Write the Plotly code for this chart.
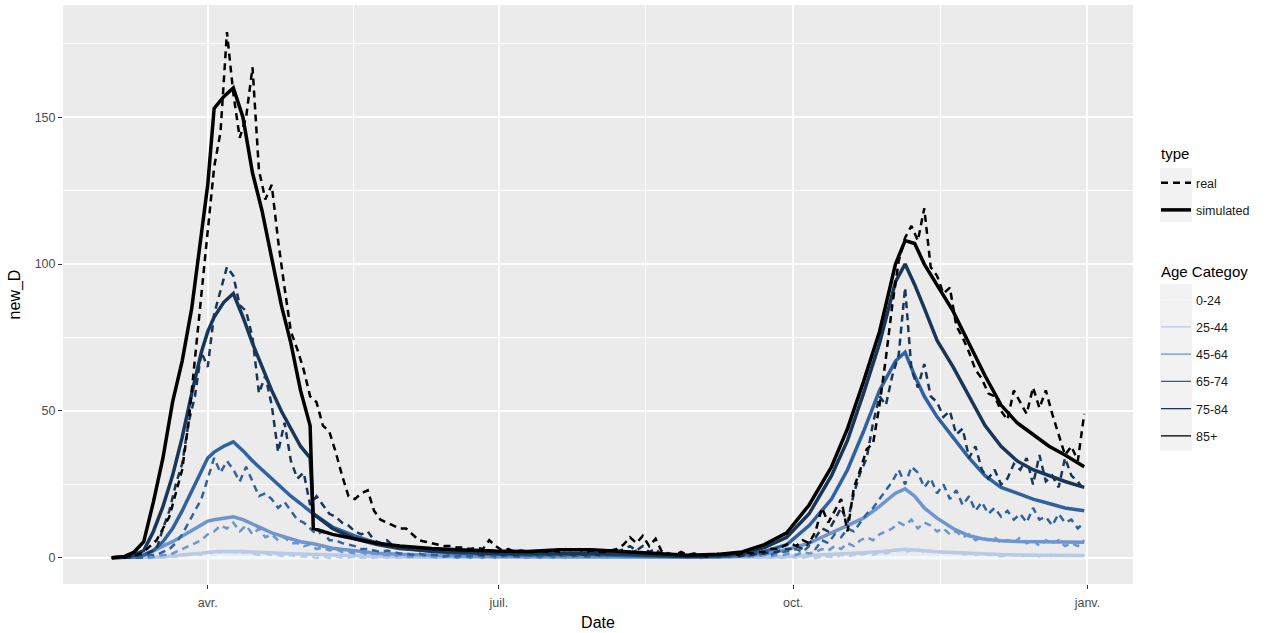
import plotly.graph_objects as go
import pandas as pd

# ---------------- data ----------------
age_categories = ["0-24", "25-44", "45-64", "65-74", "75-84", "85+"]
type_labels = ["real", "simulated"]

# observed series: one value every 2 days, 2020-03-02 .. 2020-12-31
real_dates = pd.date_range("2020-03-02", "2020-12-31", freq="2D")

real_0_24 = [0, 0, 0, 0, 0, 0, 0, 0, 0, 0, 0, 0, 0, 0, 0, 0, 0, 0.5, 0, 0,
             0, 0, 0, 0, 0, 0, 0, 0, 0, 0, 0, 0, 0, 0, 0, 0, 0, 0, 0, 0,
             0, 0, 0, 0, 0, 0, 0, 0, 0, 0, 0, 0, 0, 0, 0, 0, 0, 0, 0, 0,
             0, 0, 0, 0, 0, 0, 0, 0, 0, 0, 0, 0, 0, 0, 0, 0, 0, 0, 0, 0,
             0, 0, 0, 0, 0, 0, 0, 0, 0, 0, 0, 0, 0, 0, 0, 0, 0, 0, 0, 0,
             0, 0, 0, 0, 0, 0, 0, 0, 0, 0, 0, 0, 0, 0, 0, 0, 0, 0, 0, 0,
             0, 0, 0, 0, 0, 0.5, 0, 0, 0, 0, 0, 0, 0, 0, 0, 0, 0, 0, 0, 0,
             0, 0, 0, 0, 0, 0, 0, 0, 0, 0, 0, 0, 0]

real_25_44 = [0, 0, 0, 0, 0, 0, 0, 0, 0, 0.5, 0.5, 1, 1, 1.5, 1, 2, 1.5, 2, 2.5, 2,
              1.5, 2, 1.5, 1, 1.5, 1, 1, 0.5, 1, 0.5, 0.5, 0.5, 0, 0.5, 0, 0.5, 0, 0, 0.5, 0,
              0, 0, 0.5, 0, 0, 0, 0, 0, 0, 0, 0, 0, 0, 0, 0, 0, 0, 0, 0, 0,
              0, 0, 0, 0, 0, 0, 0, 0, 0, 0, 0, 0, 0, 0, 0, 0, 0, 0, 0, 0,
              0, 0, 0.5, 0, 0, 0, 0, 0, 0, 0, 0, 0, 0, 0, 0, 0, 0, 0, 0, 0,
              0, 0, 0, 0, 0, 0, 0.5, 0, 0, 0.5, 0, 0.5, 0.5, 0, 1, 0.5, 1, 1, 1.5, 1,
              2, 1.5, 2, 3, 2, 2.5, 3, 2, 2.5, 1.5, 2, 1.5, 2, 1, 1.5, 1, 1.5, 1, 1, 0.5,
              1, 1, 0.5, 1, 1, 0.5, 1, 0.5, 1, 0.5, 1, 0.5, 1]

real_45_64 = [0, 0, 0, 0, 0, 0, 0, 0.5, 1, 1,
              2, 3, 4, 5, 6, 8, 9, 11, 10, 12,
              9, 11, 8, 10, 7, 8, 6, 7, 5, 5,
              4, 4.5, 3, 3.5, 2.5, 3, 2, 2, 1.5, 2,
              1, 1.5, 1, 1, 0.5, 1, 0.5, 0.5, 1, 0.5,
              0.5, 0, 0.5, 0.5, 0, 0.5, 0, 0.5, 0, 0.5,
              0, 0.5, 0, 0.5, 0, 0, 0.5, 0, 0.5, 0,
              0.5, 0, 0.5, 0, 0.5, 0, 0.5, 0, 0.5, 0.5,
              1, 0.5, 1, 0.5, 1, 0.5, 0, 0.5, 0, 0,
              0, 0.5, 0, 0, 0.5, 0, 0.5, 0, 0.5, 0.5,
              0.5, 0.5, 1, 0.5, 1, 1, 1.5, 1, 2, 1.5,
              2, 3, 2.5, 4, 3, 5, 4, 6, 7, 6,
              8, 9, 10, 12, 11, 13, 10, 12, 11, 9,
              10, 8, 9, 7, 8, 6, 7, 6, 7, 5,
              6, 5, 7, 5, 6, 4, 6, 5, 6, 4,
              5, 4, 6]

real_65_74 = [0, 0, 0, 0, 0, 0, 1, 1, 2, 3,
              5, 8, 12, 16, 20, 27, 34, 29, 33, 30,
              26, 31, 26, 21, 22, 20, 17, 19, 16, 13,
              12, 10, 8, 9, 6, 6, 5, 4.5, 4, 3,
              3, 2.5, 2, 2.5, 2, 1.5, 1.5, 1, 1.5, 1,
              1, 1, 0.5, 1, 0.5, 1, 0.5, 1, 0.5, 1,
              0.5, 0.5, 1, 0.5, 0.5, 1, 0.5, 0.5, 1, 0.5,
              0.5, 1, 0.5, 1, 0.5, 0.5, 1, 0.5, 1, 1,
              2, 1.5, 2.5, 1.5, 2, 1, 0.5, 0.5, 0.5, 0.5,
              0.5, 0.5, 0, 0.5, 0.5, 0.5, 0.5, 0.5, 1, 0.5,
              1, 1, 1.5, 1, 2, 2, 2.5, 3, 2, 4,
              3, 6, 5, 8, 7, 10, 9, 12, 15, 17,
              20, 23, 26, 30, 25, 31, 29, 24, 27, 22,
              25, 20, 23, 18, 21, 16, 19, 15, 17, 14,
              16, 13, 15, 12, 17, 13, 14, 11, 15, 12,
              13, 10, 12]

real_75_84 = [0, 0, 0, 0, 1, 1, 2, 3, 10, 16,
              25, 32, 46, 55, 70, 65, 83, 91, 99, 96,
              86, 84, 75, 56, 62, 52, 36, 46, 33, 27,
              29, 18, 21, 18, 15, 14, 12, 11, 9, 8,
              9, 6, 5, 6, 4, 4, 3.5, 3, 2.5, 3,
              2, 2.5, 2, 1.5, 2, 1.5, 2, 1.5, 1, 2,
              1.5, 1, 1.5, 1, 1, 1.5, 1, 1.5, 1, 1.5,
              1, 2, 1, 1.5, 1, 1.5, 1, 1, 1.5, 2,
              3, 4, 2.5, 4, 2, 3, 1, 1, 0.5, 1,
              0.5, 1, 0.5, 0.5, 1, 0.5, 1, 1, 0.5, 1,
              1, 1.5, 1.5, 2, 2, 3, 3, 4, 3, 5,
              7, 10, 9, 13, 17, 12, 22, 29, 34, 46,
              55, 52, 62, 69, 92, 64, 58, 66, 55, 53,
              48, 50, 42, 44, 34, 38, 30, 27, 30, 25,
              27, 32, 30, 34, 25, 35, 26, 28, 24, 34,
              28, 26, 23]

real_85p = [0, 0, 0, 1, 1, 2, 4, 6, 10, 14,
            22, 30, 46, 68, 88, 112, 133, 145, 179, 158,
            143, 150, 167, 132, 122, 127, 108, 92, 77, 71,
            64, 55, 53, 45, 43, 36, 28, 21, 20, 22,
            23, 16, 13, 12, 11, 10, 10, 8, 6, 5.5,
            5, 4.5, 4, 4, 3.5, 3.5, 3, 3.5, 3, 6,
            4, 2.5, 3, 2, 2.5, 2, 2, 2.5, 2, 2.5,
            2, 3, 2.5, 3, 2, 2.5, 2, 2, 2.5, 3,
            4.5, 7, 5, 7.5, 4, 6.5, 2, 1.5, 1, 2,
            1, 1.5, 1, 0.5, 1, 1.5, 1, 1.5, 1, 2,
            1.5, 2, 2, 3, 3, 4, 5, 4, 6, 5,
            9, 17, 12, 16, 20, 9, 24, 30, 37, 39,
            52, 68, 86, 101, 109, 113, 108, 119, 99, 96,
            90, 92, 79, 75, 70, 64, 61, 56, 55, 50,
            47, 57, 53, 49, 58, 51, 57, 49, 42, 35,
            38, 33, 49]

# simulated series
sim_dates = ["2020-03-02", "2020-03-06", "2020-03-09", "2020-03-12", "2020-03-15",
             "2020-03-18", "2020-03-21", "2020-03-24", "2020-03-27", "2020-03-30",
             "2020-04-01", "2020-04-03", "2020-04-06", "2020-04-09", "2020-04-12",
             "2020-04-15", "2020-04-18", "2020-04-21", "2020-04-24", "2020-04-27",
             "2020-04-30", "2020-05-03", "2020-05-04", "2020-05-10", "2020-05-17",
             "2020-05-24", "2020-05-31", "2020-06-10", "2020-06-20", "2020-06-30",
             "2020-07-10", "2020-07-20", "2020-07-30", "2020-08-09", "2020-08-19",
             "2020-08-29", "2020-09-08", "2020-09-15", "2020-09-22", "2020-09-29",
             "2020-10-06", "2020-10-13", "2020-10-18", "2020-10-23", "2020-10-28",
             "2020-11-02", "2020-11-05", "2020-11-08", "2020-11-11", "2020-11-15",
             "2020-11-20", "2020-11-25", "2020-11-30", "2020-12-05", "2020-12-10",
             "2020-12-15", "2020-12-20", "2020-12-25", "2020-12-31"]

sim_0_24 = [0, 0, 0, 0, 0, 0, 0, 0.05, 0.1, 0.1,
            0.1, 0.1, 0.1, 0.1, 0.1, 0.1, 0.1, 0.1, 0.1, 0.1, 0.1,
            0.1, 0.1, 0.05, 0, 0, 0,
            0, 0, 0, 0, 0, 0, 0, 0, 0,
            0, 0, 0, 0,
            0, 0.05, 0.05, 0.1, 0.1,
            0.1, 0.1, 0.1, 0.1, 0.1, 0.1, 0.1, 0.1,
            0.1, 0.1, 0.05, 0.05, 0.05, 0.05]

sim_25_44 = [0, 0, 0, 0.1, 0.2, 0.4, 0.6, 0.9, 1.3, 1.6,
             1.9, 2.1, 2.2, 2.3, 2.2, 2.0, 1.8, 1.7, 1.5, 1.4, 1.3,
             1.2, 1.1, 0.9, 0.6, 0.5, 0.3,
             0.2, 0.2, 0.1, 0.1, 0.1, 0.1, 0.1, 0.1, 0.1,
             0.1, 0.2, 0.3, 0.5,
             0.8, 1.1, 1.4, 1.7, 2.1,
             2.6, 2.9, 2.7, 2.4, 2.1, 1.8, 1.5, 1.3,
             1.1, 1.0, 0.9, 0.9, 0.8, 0.8]

sim_45_64 = [0, 0.1, 0.3, 0.8, 2.5, 4, 5.5, 7.5, 9.5, 11.5,
             12.5, 13, 13.5, 14, 13, 11.5, 10, 8.5, 7.5, 6.5, 5.5,
             5, 4.8, 3.3, 2.3, 1.6, 1.2,
             0.8, 0.6, 0.5, 0.4, 0.4, 0.4, 0.3, 0.2, 0.2,
             0.3, 0.6, 1.2, 2.8,
             5, 8.5, 11, 13.5, 17.5,
             22, 23.5, 21, 17, 13.5, 10, 7.5, 6.3,
             5.8, 5.6, 5.5, 5.4, 5.4, 5.3]

sim_65_74 = [0, 0.1, 0.4, 1, 2.5, 5.5, 10, 16, 23, 30,
             34, 36, 38, 39.5, 36.5, 33, 30, 27, 24, 21, 18.5,
             16, 15, 10.5, 7.5, 5, 3.5,
             2.2, 1.5, 1.2, 1.0, 1.1, 1.1, 0.8, 0.5, 0.4,
             0.5, 1, 2.2, 4.5,
             11, 20, 30, 43, 57,
             67, 70, 62, 55, 48, 41, 34, 28,
             24, 22, 20, 18.5, 17, 16]

sim_75_84 = [0, 0.3, 1, 2.5, 9, 17.5, 28, 41, 56, 70,
             77, 82, 87, 90, 82, 73, 65, 57, 50, 44, 38,
             34, 15, 10, 6.5, 4.5, 3.2,
             2.3, 1.8, 1.5, 1.4, 1.6, 1.6, 1.2, 0.8, 0.5,
             0.8, 1.6, 3.5, 7,
             15, 28, 40, 56, 73,
             94, 100, 93, 85, 74, 65, 55, 45,
             38, 33, 30, 28, 26, 24]

sim_85p = [0, 0.5, 2, 5.5, 19, 34, 53, 67, 85, 110,
           127, 153, 157, 160, 150, 131, 118, 102, 86, 73, 57,
           45, 10, 8, 6.5, 5, 4,
           3.2, 2.7, 2.3, 2.2, 2.8, 2.8, 2.2, 1.6, 0.9,
           1.2, 2, 4.5, 8.5,
           18, 31, 44, 60, 77,
           100, 108, 107, 100, 93, 84, 73, 62,
           52, 46, 42, 38, 35, 31]

real_series = [real_0_24, real_25_44, real_45_64, real_65_74, real_75_84, real_85p]
sim_series = [sim_0_24, sim_25_44, sim_45_64, sim_65_74, sim_75_84, sim_85p]

x_tick_vals = ["2020-04-01", "2020-07-01", "2020-10-01", "2021-01-01"]
x_tick_text = ["avr.", "juil.", "oct.", "janv."]
x_minor_vals = ["2020-05-16 12:00", "2020-08-16", "2020-11-16"]
y_tick_vals = [0, 50, 100, 150]
y_minor_vals = [25, 75, 125, 175]

# ---------------- styling ----------------
W, H = 1279, 633
ML, MR, MT, MB = 63, 146, 5, 49
PW, PH = W - ML - MR, H - MT - MB
colors = ["#F4F7FC", "#B7CAE8", "#6E95CE", "#30629F", "#183658", "#000000"]
FONT = "Liberation Sans, Arial, sans-serif"
REAL_DASH = "7px,5px"
REAL_W = 2.5
SIM_W = 3.5


def px_x(px):
    return (px - ML) / PW


def px_y(py):
    return (H - MB - py) / PH


fig = go.Figure()

for cat, col, rv, sv in zip(age_categories, colors, real_series, sim_series):
    fig.add_trace(go.Scatter(x=real_dates, y=rv, mode="lines", showlegend=False,
                             line=dict(color=col, width=REAL_W, dash=REAL_DASH),
                             name=cat + " real", hoverinfo="skip"))
    fig.add_trace(go.Scatter(x=sim_dates, y=sv, mode="lines", showlegend=False,
                             line=dict(color=col, width=SIM_W),
                             name=cat + " simulated", hoverinfo="skip"))

# legend entries (type)
fig.add_trace(go.Scatter(x=[None], y=[None], mode="lines", name=type_labels[0],
                         legend="legend", legendgroup="t1",
                         line=dict(color="black", width=REAL_W, dash=REAL_DASH)))
fig.add_trace(go.Scatter(x=[None], y=[None], mode="lines", name=type_labels[1],
                         legend="legend", legendgroup="t2",
                         line=dict(color="black", width=SIM_W)))
# legend entries (age)
for i, (cat, col) in enumerate(zip(age_categories, colors)):
    fig.add_trace(go.Scatter(x=[None], y=[None], mode="lines", name=cat,
                             legend="legend2", legendgroup="a%d" % i,
                             line=dict(color=col, width=1.3)))

legend_common = dict(
    xanchor="left", yanchor="top", bgcolor="rgba(0,0,0,0)",
    font=dict(family=FONT, size=12.5, color="#1a1a1a"),
    tracegroupgap=8, itemwidth=30,
)

fig.update_layout(
    width=W, height=H,
    margin=dict(l=ML, r=MR, t=MT, b=MB, pad=0),
    paper_bgcolor="white", plot_bgcolor="#EBEBEB",
    font=dict(family=FONT),
    legend=dict(x=px_x(1156), y=px_y(168), **legend_common),
    legend2=dict(x=px_x(1156), y=px_y(285), **legend_common),
    annotations=[
        dict(text="type", xref="paper", yref="paper", x=px_x(1159), y=px_y(153),
             xanchor="left", yanchor="middle", showarrow=False,
             font=dict(family=FONT, size=15, color="black")),
        dict(text="Age Categoy", xref="paper", yref="paper", x=px_x(1159), y=px_y(271),
             xanchor="left", yanchor="middle", showarrow=False,
             font=dict(family=FONT, size=15, color="black")),
    ],
    xaxis=dict(
        type="date",
        range=["2020-02-15 18:00", "2021-01-15 06:00"],
        tickmode="array", tickvals=x_tick_vals, ticktext=x_tick_text,
        ticks="outside", ticklen=4, tickwidth=1, tickcolor="#333333",
        ticklabelstandoff=3,
        tickfont=dict(family=FONT, size=12.5, color="#4D4D4D"),
        showgrid=True, gridcolor="white", gridwidth=1.6,
        minor=dict(tickmode="array", tickvals=x_minor_vals, showgrid=True,
                   gridcolor="white", gridwidth=0.8, ticks=""),
        zeroline=False, showline=False,
        title=dict(text="Date", font=dict(family=FONT, size=16, color="black"), standoff=7),
    ),
    yaxis=dict(
        range=[-8.9, 188.2],
        tickmode="array", tickvals=y_tick_vals,
        ticks="outside", ticklen=4, tickwidth=1, tickcolor="#333333",
        tickfont=dict(family=FONT, size=12.5, color="#4D4D4D"),
        showgrid=True, gridcolor="white", gridwidth=1.6,
        minor=dict(tickmode="array", tickvals=y_minor_vals, showgrid=True,
                   gridcolor="white", gridwidth=0.8, ticks=""),
        zeroline=False, showline=False,
        title=dict(text="new_D", font=dict(family=FONT, size=16, color="black"), standoff=10),
    ),
    shapes=[
        dict(type="rect", xref="paper", yref="paper", layer="below",
             x0=px_x(1160), x1=px_x(1192), y0=px_y(222), y1=px_y(168),
             fillcolor="#F2F2F2", line=dict(width=0)),
        dict(type="rect", xref="paper", yref="paper", layer="below",
             x0=px_x(1160), x1=px_x(1192), y0=px_y(451), y1=px_y(284),
             fillcolor="#F2F2F2", line=dict(width=0)),
    ],
)

fig.write_html("out.html", config={"displayModeBar": False})
